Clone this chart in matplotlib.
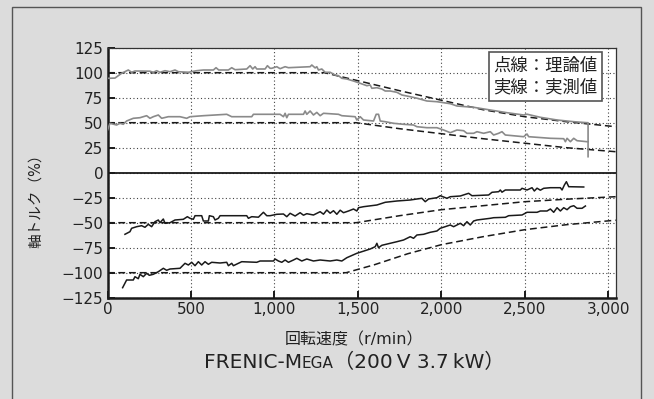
import matplotlib
matplotlib.use("Agg")
import matplotlib.pyplot as plt
from matplotlib.patches import Rectangle

plt.rcParams['font.family'] = ['Noto Sans CJK JP', 'DejaVu Sans']
latin = ['DejaVu Sans', 'Noto Sans CJK JP']

# theoretical curves (dashed)
theory_p100_x = [0, 1300, 1500, 1750, 2000, 2250, 2500, 2750, 3045]
theory_p100_y = [100, 100, 92, 82, 72.5, 63, 56, 51, 46]
theory_p50_x = [0, 1490, 1750, 2000, 2250, 2500, 2750, 3045]
theory_p50_y = [50, 50, 44, 39, 34, 29.5, 25, 21]
theory_n50_x = [0, 1490, 1750, 2000, 2250, 2500, 2750, 3045]
theory_n50_y = [-50, -50, -43, -37, -33, -29, -26.5, -24]
theory_n100_x = [0, 1430, 1600, 1800, 2000, 2250, 2500, 2750, 3045]
theory_n100_y = [-100, -100, -92, -81, -72, -64, -57, -52, -47.5]

# measured curves (solid)
meas_p100_x = [0, 44, 64, 84, 124, 144, 164, 254, 274, 294, 314, 344, 374, 404, 424,
               484, 534, 574, 634, 650, 666, 724, 744, 764, 834, 854, 870, 884, 894,
               944, 958, 974, 984, 1014, 1034, 1064, 1084, 1214, 1224, 1244, 1254,
               1264, 1284, 1304, 1334, 1364, 1384, 1404, 1434, 1474, 1514, 1554, 1574,
               1584, 1614, 1644, 1664, 1694, 1734, 1764, 1814, 1854, 1914, 1974, 2054,
               2094, 2194, 2294, 2394, 2494, 2514, 2594, 2694, 2794, 2874, 2880, 2880]
meas_p100_y = [94.4, 94.6, 97, 99.4, 102.7, 100.4, 101.7, 101.5, 100.4, 102, 100.4, 102,
               101, 102.7, 101, 100.4, 102, 102.7, 102.7, 105, 102.7, 102.7, 105, 103,
               103.7, 107, 103.7, 106, 103.7, 103.7, 107, 104.4, 104.4, 106, 104, 106,
               105, 106, 107.7, 104.8, 106, 102.7, 103.7, 100.4, 100.4, 97.7, 97, 94.4,
               93.7, 91.7, 89.4, 87, 87.7, 84.4, 85, 83.7, 81.7, 81.7, 80.4, 77.7, 76,
               74.5, 71.7, 71, 69, 66.7, 65.4, 62.7, 60, 57.7, 58.5, 55.4, 52.7, 51, 50,
               50, 16]

meas_p50_x = [0, 14, 54, 74, 94, 114, 154, 194, 234, 254, 274, 304, 324, 364, 434, 474,
              494, 574, 714, 744, 864, 874, 974, 1034, 1054, 1064, 1074, 1084, 1174,
              1184, 1194, 1214, 1234, 1254, 1274, 1294, 1384, 1404, 1484, 1494, 1514,
              1534, 1594, 1610, 1624, 1634, 1664, 1714, 1774, 1834, 1854, 1914, 1974,
              2014, 2054, 2094, 2134, 2154, 2194, 2214, 2254, 2294, 2314, 2344, 2364,
              2384, 2494, 2514, 2524, 2654, 2734, 2744, 2754, 2774, 2794, 2814, 2874, 2880]
meas_p50_y = [42.7, 49.4, 47.7, 49.4, 48.4, 51.7, 54.4, 55, 57, 54.4, 56, 57.7, 54.4, 56,
              56, 54.4, 56, 57, 58.4, 56, 56, 58.4, 58.4, 58.4, 56, 59.4, 55, 58.4, 58.4,
              61.7, 58.4, 61.7, 57.7, 60.3, 57, 59.4, 58.4, 57, 56, 52.7, 56, 52.7, 51.7,
              58.4, 58.4, 51.7, 51, 49.4, 48.4, 47.7, 46, 45, 45, 42.7, 40, 42.7, 42,
              39.4, 39.4, 41, 39.4, 41, 37.7, 39.4, 41, 37.7, 36, 38.7, 36, 34.4, 34, 31,
              34.4, 31, 34.4, 32, 31, 31]

meas_n50_x = [104, 134, 144, 174, 204, 224, 244, 264, 284, 304, 314, 334, 344, 374, 404,
              454, 478, 494, 514, 524, 564, 574, 604, 610, 634, 644, 664, 674, 834, 844,
              864, 904, 934, 954, 974, 1014, 1054, 1074, 1094, 1124, 1154, 1174, 1194,
              1234, 1274, 1294, 1314, 1334, 1354, 1374, 1394, 1414, 1444, 1474, 1494,
              1504, 1534, 1614, 1664, 1734, 1814, 1854, 1884, 1904, 1924, 1974, 1994,
              2034, 2054, 2114, 2164, 2184, 2284, 2304, 2344, 2354, 2364, 2384, 2474,
              2484, 2514, 2544, 2558, 2574, 2594, 2614, 2654, 2714, 2724, 2738, 2750,
              2764, 2854]
meas_n50_y = [-61.6, -59, -55.6, -54, -53, -54.6, -51.6, -54, -49, -47.3, -50, -46.3,
              -50.6, -50, -47.3, -46.6, -44, -45.6, -46.6, -43, -43, -48.3, -48.3, -43,
              -44, -47.3, -45.6, -43, -43, -45.6, -44, -44.5, -39.6, -43, -43, -41.6,
              -41.3, -44, -40.6, -43.3, -40, -42.5, -41, -42.3, -39, -41.5, -37.3, -40.5,
              -38, -41.6, -37.5, -40, -38.3, -36.3, -38.3, -35, -34, -32.3, -29.6, -28.3,
              -27.3, -26.3, -25.6, -29, -26.3, -25, -23, -25.6, -24, -23.3, -20.6, -23,
              -22.3, -19.6, -19, -17.3, -19.5, -17.3, -17.3, -15.6, -17.3, -15, -18.3,
              -15.5, -17.5, -15.6, -15, -15, -17.3, -12.3, -9, -14, -14.3]

meas_n100_x = [90, 114, 154, 164, 184, 194, 214, 234, 250, 274, 304, 334, 354, 374, 434,
               464, 484, 504, 524, 544, 564, 584, 604, 624, 674, 714, 724, 744, 754, 784,
               804, 894, 914, 994, 1004, 1024, 1044, 1064, 1084, 1114, 1134, 1164, 1194,
               1234, 1274, 1334, 1374, 1404, 1434, 1494, 1574, 1604, 1614, 1624, 1644,
               1694, 1734, 1774, 1814, 1834, 1854, 1894, 1934, 1974, 1994, 2054, 2074,
               2114, 2134, 2154, 2174, 2194, 2214, 2294, 2314, 2384, 2404, 2484, 2514,
               2574, 2594, 2634, 2654, 2674, 2694, 2714, 2734, 2754, 2774, 2794, 2814,
               2844, 2864]
meas_n100_y = [-115, -107.3, -107.3, -104, -106, -101.6, -104, -100.6, -102.6, -101.6,
               -99, -95.6, -97.6, -96.3, -95.6, -90.6, -92.3, -89.6, -93, -89, -92.3, -89,
               -91.6, -89.6, -90.3, -89.6, -93, -90.6, -93, -90.6, -89, -89.6, -88.3,
               -88.3, -86.3, -88.3, -89.6, -87.3, -89.6, -87.3, -85.6, -88.3, -86.3,
               -88.3, -87.3, -88.3, -87.3, -88.3, -85, -80.6, -76.3, -74, -70.6, -75,
               -72.6, -70.6, -69, -67.3, -64, -65.6, -62.3, -61.6, -59.6, -58.3, -55.6,
               -52.3, -54, -50.6, -53, -49, -52.3, -48.3, -47.3, -45.6, -45, -44.6, -43,
               -42.3, -39.6, -39.6, -38.3, -38.3, -36.3, -39.6, -35, -38.3, -35, -37, -34,
               -33, -35.6, -35.6, -33.3]

xticks = [0, 500, 1000, 1500, 2000, 2500, 3000]
xtick_labels = ['0', '500', '1,000', '1,500', '2,000', '2,500', '3,000']
yticks = [125, 100, 75, 50, 25, 0, -25, -50, -75, -100, -125]
ytick_labels = ['125', '100', '75', '50', '25', '0', '\u221225', '\u221250',
                '\u221275', '\u2212100', '\u2212125']

W, H = 654, 399
bg = '#dcdcdc'
fig = plt.figure(figsize=(W / 100, H / 100), dpi=100, facecolor=bg)
ax = fig.add_axes([107.6 / W, 101.3 / H, 508 / W, 250 / H])
ax.set_facecolor('white')

dash = (0, (4.5, 2.5))
for xs, ys in [(theory_p100_x, theory_p100_y), (theory_p50_x, theory_p50_y),
               (theory_n50_x, theory_n50_y), (theory_n100_x, theory_n100_y)]:
    ax.plot(xs, ys, color='#1a1a1a', lw=1.1, linestyle=dash, zorder=3)

ax.plot(meas_p100_x, meas_p100_y, color='#8a8a8a', lw=1.2, zorder=4)
ax.plot(meas_p50_x, meas_p50_y, color='#8a8a8a', lw=1.2, zorder=4)
ax.plot(meas_n50_x, meas_n50_y, color='#1a1a1a', lw=1.1, zorder=4)
ax.plot(meas_n100_x, meas_n100_y, color='#1a1a1a', lw=1.1, zorder=4)

ax.axhline(0, color='#1a1a1a', lw=1.3, zorder=5)

ax.set_xlim(0, 3045)
ax.set_ylim(-125, 125)
ax.set_xticks(xticks)
ax.set_xticklabels(xtick_labels, family=latin)
ax.set_yticks(yticks)
ax.set_yticklabels(ytick_labels, family=latin)
ax.grid(True, color='#444444', linestyle=(0, (1, 2.2)), lw=0.8)
ax.tick_params(direction='in', length=5, width=1.4, colors='#1a1a1a',
               labelsize=11, labelcolor='#222222', pad=3)

for side in ['left', 'bottom']:
    ax.spines[side].set_linewidth(1.8)
    ax.spines[side].set_color('#1a1a1a')
for side in ['top', 'right']:
    ax.spines[side].set_linewidth(0.9)
    ax.spines[side].set_color('#333333')

ax.text(0.965, 0.965, '点線：理論値\n実線：実測値', transform=ax.transAxes,
        ha='right', va='top', fontsize=12.5, color='#222222', linespacing=1.3,
        bbox=dict(boxstyle='square,pad=0.25', fc='white', ec='#555555', lw=1.2),
        zorder=6)

fig.text(35 / W, 1 - 197 / H, '軸トルク（%）', rotation=90, ha='center', va='center',
         fontsize=10.5, color='#222222', family=latin)
fig.text(354 / W, 1 - 340 / H, '回転速度（r/min）', ha='center', va='center',
         fontsize=11.5, color='#222222', family=latin)

# title with small caps "MEGA", centred at x=354 px
base_y = 1 - 368 / H
t1 = fig.text(0, base_y, 'FRENIC-M', ha='left', va='baseline',
              fontsize=14.5, color='#222222', family=latin)
t2 = fig.text(0, base_y, 'EGA', ha='left', va='baseline',
              fontsize=11, color='#222222', family=latin)
t3 = fig.text(0, base_y, '（200\u2009V 3.7\u2009kW）', ha='left', va='baseline',
              fontsize=14.5, color='#222222', family=latin)
fig.canvas.draw()
r = fig.canvas.get_renderer()
w1 = t1.get_window_extent(r).width
w2 = t2.get_window_extent(r).width
w3 = t3.get_window_extent(r).width
x0 = 354 - (w1 + w2 + w3) / 2
t1.set_x(x0 / W)
t2.set_x((x0 + w1) / W)
t3.set_x((x0 + w1 + w2) / W)

fig.add_artist(Rectangle((12 / W, -0.05), (641 - 12) / W, (1 - 6.5 / H) + 0.05,
                         transform=fig.transFigure, fill=False, ec='#555555', lw=1.0))

fig.savefig('out.png', dpi=100, facecolor=bg)
